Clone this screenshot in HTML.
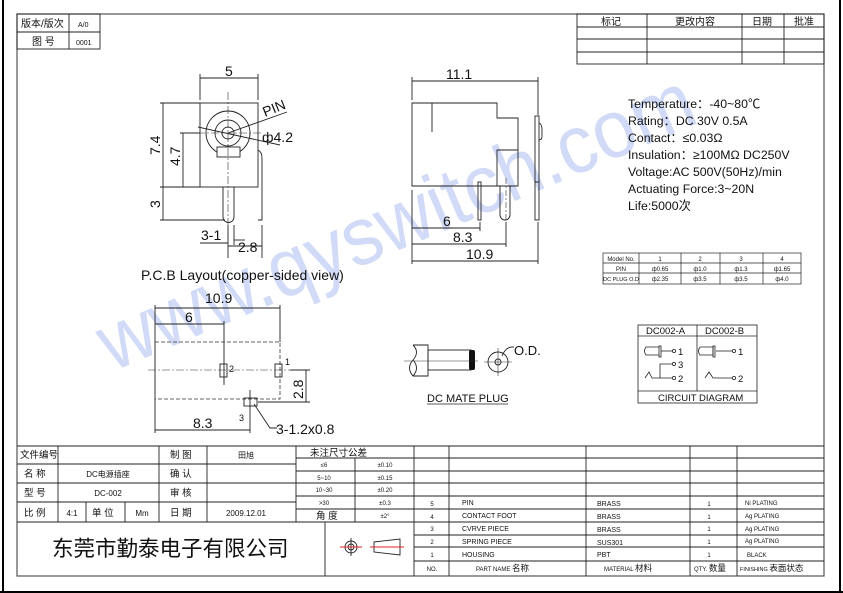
<!DOCTYPE html>
<html><head><meta charset="utf-8"><style>
html,body{margin:0;padding:0;background:#fff;}
svg{display:block;}
text{font-family:"Liberation Sans","Noto Sans CJK SC",sans-serif;fill:#111;}
</style></head><body>
<svg width="843" height="593" viewBox="0 0 843 593" xmlns="http://www.w3.org/2000/svg">
<rect width="843" height="593" fill="#fff"/>
<!-- outer black edges -->
<line x1="3" y1="0" x2="3" y2="593" stroke="#000" stroke-width="2"/>
<line x1="840" y1="0" x2="840" y2="593" stroke="#000" stroke-width="2"/>
<line x1="0" y1="592" x2="843" y2="592" stroke="#000" stroke-width="2"/>
<!-- frame -->
<rect x="17" y="14" width="807" height="562" fill="none" stroke="#555" stroke-width="1.2"/>

<!-- watermark -->
<text x="0" y="0" transform="translate(112,372) rotate(-23)" font-size="82" textLength="640" lengthAdjust="spacingAndGlyphs" style="fill:#c9d3f6;fill-opacity:0.85">www.qyswitch.com</text>

<g stroke="#222" stroke-width="0.9" fill="none">
<!-- top-left table -->
<rect x="17" y="14" width="83" height="35"/>
<line x1="17" y1="32" x2="100" y2="32"/><line x1="69" y1="14" x2="69" y2="49"/>
<!-- top-right table -->
<rect x="577" y="14" width="247" height="50"/>
<line x1="577" y1="27" x2="824" y2="27"/><line x1="577" y1="39" x2="824" y2="39"/><line x1="577" y1="52" x2="824" y2="52"/>
<line x1="647" y1="14" x2="647" y2="64"/><line x1="742" y1="14" x2="742" y2="64"/><line x1="784" y1="14" x2="784" y2="64"/>
</g>
<g font-size="10">
<text x="21" y="27">版本/版次</text><text x="78" y="27" font-size="7">A/0</text>
<text x="32" y="45">图 号</text><text x="76" y="45" font-size="7">0001</text>
<text x="601" y="25">标记</text><text x="675" y="25">更改内容</text><text x="752" y="25">日期</text><text x="794" y="25">批准</text>
</g>

<!-- front view -->
<g stroke="#222" stroke-width="0.9" fill="none">
<rect x="200" y="103" width="58" height="84"/>
<circle cx="228" cy="133" r="22"/><circle cx="228" cy="133" r="13"/><circle cx="228" cy="133" r="6"/>
<rect x="217" y="147" width="23" height="10" fill="#fff"/>
<path d="M223 187 V217 A5.5 5.5 0 0 0 234 217 V187"/>
<path d="M258 150 Q262 152 262 158 V220 H258"/>
<!-- dims -->
<line x1="200" y1="78" x2="258" y2="78"/><line x1="200" y1="74" x2="200" y2="100"/><line x1="258" y1="74" x2="258" y2="100"/>
<line x1="163" y1="103" x2="163" y2="220"/><line x1="160" y1="103" x2="200" y2="103"/><line x1="160" y1="187" x2="200" y2="187"/><line x1="160" y1="220" x2="225" y2="220"/>
<line x1="183" y1="133" x2="183" y2="187"/><line x1="180" y1="133" x2="200" y2="133"/>
<line x1="228" y1="225" x2="228" y2="258"/><line x1="262" y1="225" x2="262" y2="258"/>
<line x1="228" y1="246" x2="262" y2="246"/>
<line x1="200" y1="243" x2="228" y2="243"/><line x1="234" y1="225" x2="234" y2="245"/><line x1="234" y1="240" x2="245" y2="240"/>
<line x1="198" y1="127" x2="280" y2="145"/>
<line x1="228" y1="133" x2="287" y2="112"/>
</g>
<g stroke="#333" stroke-width="0.6" stroke-dasharray="8 2 2 2" fill="none">
<line x1="228" y1="92" x2="228" y2="248"/><line x1="183" y1="133" x2="262" y2="133"/>
</g>
<g font-size="14">
<text x="225" y="76">5</text>
<text transform="translate(160,155) rotate(-90)">7.4</text>
<text transform="translate(180,166) rotate(-90)">4.7</text>
<text transform="translate(160,208) rotate(-90)">3</text>
<text transform="translate(265,117) rotate(-22)">PIN</text>
<text x="262" y="142">ф4.2</text>
<text x="201" y="240">3-1</text>
<text x="238" y="252">2.8</text>
<text x="141" y="280">P.C.B Layout(copper-sided view)</text>
</g>

<!-- side view -->
<g stroke="#222" stroke-width="0.9" fill="none">
<line x1="412" y1="81" x2="538" y2="81"/><line x1="412" y1="77" x2="412" y2="100"/><line x1="538" y1="77" x2="538" y2="115"/>
<path d="M412 186 V103 H497 V118 H518 V186 Z"/>
<line x1="432" y1="103" x2="432" y2="132"/>
<path d="M497 186 V150 H518"/>
<rect x="535" y="116" width="4" height="66"/>
<path d="M539 123 Q542 124 542 130 V136 Q542 140 539 140"/>
<path d="M500 186 V215 A5 5 0 0 0 510 215 V186"/>
<rect x="478" y="182" width="3" height="38"/>
<rect x="535" y="182" width="4" height="38"/>
<line x1="412" y1="190" x2="412" y2="264"/><line x1="538" y1="222" x2="538" y2="264"/>
<line x1="480" y1="222" x2="480" y2="231"/><line x1="506" y1="222" x2="506" y2="247"/>
<line x1="412" y1="228" x2="480" y2="228"/><line x1="412" y1="244" x2="506" y2="244"/><line x1="412" y1="261" x2="538" y2="261"/>
</g>
<line x1="506" y1="178" x2="506" y2="222" stroke="#333" stroke-width="0.6" stroke-dasharray="6 2 2 2"/>
<g font-size="14">
<text x="446" y="79">11.1</text>
<text x="443" y="226">6</text>
<text x="453" y="242">8.3</text>
<text x="466" y="259">10.9</text>
</g>

<!-- specs -->
<g font-size="12.3">
<text x="628" y="108">Temperature：-40~80℃</text>
<text x="628" y="125">Rating：DC 30V 0.5A</text>
<text x="628" y="142">Contact：≤0.03Ω</text>
<text x="628" y="159">Insulation：≥100MΩ DC250V</text>
<text x="628" y="176">Voltage:AC 500V(50Hz)/min</text>
<text x="628" y="193">Actuating Force:3~20N</text>
<text x="628" y="210">Life:5000次</text>
</g>
<!-- model table -->
<g stroke="#222" stroke-width="0.7" fill="none">
<rect x="603" y="253" width="198" height="31"/>
<line x1="603" y1="263" x2="801" y2="263"/><line x1="603" y1="273" x2="801" y2="273"/>
<line x1="639" y1="253" x2="639" y2="284"/><line x1="681" y1="253" x2="681" y2="284"/><line x1="720" y1="253" x2="720" y2="284"/><line x1="763" y1="253" x2="763" y2="284"/>
</g>
<g font-size="6" text-anchor="middle">
<text x="621" y="261">Model No.</text><text x="660" y="261">1</text><text x="700" y="261">2</text><text x="741" y="261">3</text><text x="782" y="261">4</text>
<text x="621" y="271">PIN</text><text x="660" y="271">ф0.65</text><text x="700" y="271">ф1.0</text><text x="741" y="271">ф1.3</text><text x="782" y="271">ф1.65</text>
<text x="621" y="281" font-size="5.5">DC PLUG O.D</text><text x="660" y="281">ф2.35</text><text x="700" y="281">ф3.5</text><text x="741" y="281">ф3.5</text><text x="782" y="281">ф4.0</text>
</g>

<!-- bottom view -->
<g stroke="#222" stroke-width="0.9" fill="none">
<line x1="155" y1="308" x2="280" y2="308"/><line x1="155" y1="324" x2="224" y2="324"/>
<line x1="155" y1="305" x2="155" y2="433"/><line x1="280" y1="305" x2="280" y2="342"/><line x1="224" y1="321" x2="224" y2="385"/>
<rect x="220" y="364" width="7" height="13"/><rect x="275" y="364" width="7" height="13"/>
<rect x="244" y="398" width="13" height="8"/>
<line x1="250" y1="390" x2="250" y2="433"/>
<line x1="155" y1="430" x2="250" y2="430"/>
<line x1="306" y1="370" x2="306" y2="402"/><line x1="258" y1="402" x2="310" y2="402"/><line x1="290" y1="370" x2="310" y2="370"/>
<path d="M254 404 L270 428 H277"/>
</g>
<rect x="155" y="342" width="125" height="57" fill="none" stroke="#333" stroke-width="0.8" stroke-dasharray="4 2"/>
<line x1="148" y1="370" x2="302" y2="370" stroke="#333" stroke-width="0.6" stroke-dasharray="8 2 2 2"/>
<g font-size="14">
<text x="205" y="303">10.9</text><text x="185" y="322">6</text>
<text transform="translate(303,399) rotate(-90)">2.8</text>
<text x="193" y="428">8.3</text>
<text x="276" y="434">3-1.2x0.8</text>
</g>
<g font-size="9"><text x="229" y="372">2</text><text x="285" y="365">1</text><text x="239" y="421">3</text></g>

<!-- DC mate plug -->
<g stroke="#222" stroke-width="0.9" fill="none">
<path d="M413 345 H428 V376 H413 Q406 368 413 360 Q420 352 413 345"/>
<path d="M413 376 Q420 368 413 360"/>
<rect x="428" y="350" width="43" height="20"/>
<circle cx="498" cy="362" r="10"/><circle cx="498" cy="362" r="3"/>
<path d="M502 356 Q506 346 514 347"/>
</g>
<rect x="469" y="350" width="6" height="20" rx="2" fill="#111"/>
<line x1="404" y1="361" x2="478" y2="361" stroke="#333" stroke-width="0.6"/>
<line x1="484" y1="362" x2="512" y2="362" stroke="#333" stroke-width="0.6"/>
<line x1="498" y1="348" x2="498" y2="376" stroke="#333" stroke-width="0.6"/>
<text x="514" y="355" font-size="13">O.D.</text>
<text x="427" y="402" font-size="11">DC MATE PLUG</text>
<line x1="427" y1="404" x2="508" y2="404" stroke="#222" stroke-width="0.7"/>

<!-- circuit diagram -->
<g stroke="#222" stroke-width="0.8" fill="none">
<rect x="638" y="325" width="119" height="78"/>
<line x1="638" y1="336" x2="757" y2="336"/><line x1="638" y1="391" x2="757" y2="391"/><line x1="697" y1="325" x2="697" y2="391"/>
<path d="M659 347 H646 Q643 351 646 355 H659"/><rect x="659" y="346" width="2" height="11"/><line x1="661" y1="351" x2="672" y2="351"/><circle cx="674" cy="351" r="1.6"/>
<path d="M700 347 H713 V355 H700 Q697 351 700 347"/><rect x="716" y="346" width="2" height="11" transform="translate(-3,0)"/><line x1="716" y1="351" x2="732" y2="351"/><circle cx="734" cy="351" r="1.6"/>
<path d="M645 378 L649 372 L652 378 H672"/><path d="M660 378 V364 H672"/><circle cx="674" cy="364" r="1.6"/><circle cx="674" cy="378" r="1.6"/>
<path d="M705 378 L709 372 L713 378 H732"/><circle cx="734" cy="378" r="1.6"/>
</g>
<g font-size="9.5">
<text x="646" y="334">DC002-A</text><text x="705" y="334">DC002-B</text>
<text x="678" y="355">1</text><text x="678" y="368">3</text><text x="678" y="382">2</text>
<text x="738" y="355">1</text><text x="738" y="382">2</text>
<text x="658" y="401">CIRCUIT DIAGRAM</text>
</g>

<!-- title block -->
<g stroke="#222" stroke-width="0.9" fill="none">
<line x1="17" y1="446" x2="824" y2="446"/>
<line x1="17" y1="464" x2="296" y2="464"/><line x1="17" y1="483" x2="296" y2="483"/><line x1="17" y1="502" x2="296" y2="502"/><line x1="17" y1="522" x2="414" y2="522"/>
<line x1="58" y1="446" x2="58" y2="522"/><line x1="159" y1="446" x2="159" y2="522"/><line x1="207" y1="446" x2="207" y2="522"/><line x1="296" y1="446" x2="296" y2="522"/>
<line x1="86" y1="502" x2="86" y2="522"/><line x1="125" y1="502" x2="125" y2="522"/>
<line x1="325" y1="522" x2="325" y2="576"/><line x1="414" y1="446" x2="414" y2="576"/>
<line x1="296" y1="458" x2="414" y2="458"/><line x1="296" y1="471" x2="414" y2="471"/><line x1="296" y1="483" x2="414" y2="483"/><line x1="296" y1="496" x2="414" y2="496"/><line x1="296" y1="509" x2="414" y2="509"/>
<line x1="355" y1="458" x2="355" y2="522"/>
<line x1="414" y1="458" x2="824" y2="458"/><line x1="414" y1="471" x2="824" y2="471"/><line x1="414" y1="483" x2="824" y2="483"/><line x1="414" y1="496" x2="824" y2="496"/><line x1="414" y1="509" x2="824" y2="509"/><line x1="414" y1="522" x2="824" y2="522"/><line x1="414" y1="535" x2="824" y2="535"/><line x1="414" y1="547" x2="824" y2="547"/><line x1="414" y1="561" x2="824" y2="561"/>
<line x1="449" y1="446" x2="449" y2="576"/><line x1="586" y1="446" x2="586" y2="576"/><line x1="690" y1="446" x2="690" y2="576"/><line x1="737" y1="446" x2="737" y2="576"/>
</g>
<g font-size="9.5">
<text x="20" y="458">文件编号</text><text x="24" y="477">名  称</text><text x="24" y="496">型  号</text><text x="24" y="516">比  例</text>
<text x="170" y="458">制  图</text><text x="170" y="477">确  认</text><text x="170" y="496">审  核</text><text x="170" y="516">日  期</text>
<text x="92" y="516">单 位</text>
<text x="310" y="456">未注尺寸公差</text>
<text x="316" y="519">角 度</text>
</g>
<g font-size="8" text-anchor="middle">
<text x="108" y="477">DC电源插座</text><text x="108" y="496">DC-002</text><text x="72" y="516">4:1</text><text x="142" y="516">Mm</text>
<text x="246" y="458">田旭</text><text x="246" y="516">2009.12.01</text>
</g>
<g font-size="6" text-anchor="middle">
<text x="324" y="467">≤6</text><text x="385" y="467">±0.10</text>
<text x="324" y="480">5~10</text><text x="385" y="480">±0.15</text>
<text x="324" y="492">10~30</text><text x="385" y="492">±0.20</text>
<text x="324" y="505">&gt;30</text><text x="385" y="505">±0.3</text>
<text x="385" y="518">±2°</text>
<text x="432" y="506">5</text><text x="432" y="519">4</text><text x="432" y="531">3</text><text x="432" y="544">2</text><text x="432" y="557">1</text><text x="432" y="571">NO.</text>
<text x="709" y="506">1</text><text x="709" y="519">1</text><text x="709" y="531">1</text><text x="709" y="544">1</text><text x="709" y="557">1</text>
</g>
<g font-size="7">
<text x="462" y="505">PIN</text><text x="462" y="518">CONTACT  FOOT</text><text x="462" y="531">CVRVE  PIECE</text><text x="462" y="544">SPRING  PIECE</text><text x="462" y="557">HOUSING</text>
<text x="597" y="506">BRASS</text><text x="597" y="519">BRASS</text><text x="597" y="532">BRASS</text><text x="597" y="545">SUS301</text><text x="597" y="557">PBT</text>
<text x="745" y="505" font-size="6">Ni PLATING</text><text x="745" y="518" font-size="6">Ag PLATING</text><text x="745" y="531" font-size="6">Ag PLATING</text><text x="745" y="543" font-size="6">Ag PLATING</text><text x="747" y="557" font-size="6">BLACK</text>
<text x="476" y="571" font-size="6">PART NAME <tspan font-size="8.5">名称</tspan></text>
<text x="604" y="571" font-size="6">MATERIAL <tspan font-size="8.5">材料</tspan></text>
<text x="694" y="571" font-size="6">QTY. <tspan font-size="8.5">数量</tspan></text>
<text x="740" y="571" font-size="5.5">FINISHING <tspan font-size="8.5">表面状态</tspan></text>
</g>
<text x="52" y="556" font-size="21.5" font-family="Noto Sans CJK SC, sans-serif">东莞市勤泰电子有限公司</text>
<!-- symbol -->
<g stroke="#222" stroke-width="0.9" fill="none">
<circle cx="351" cy="547" r="6"/><circle cx="351" cy="547" r="3"/>
<line x1="351" y1="538" x2="351" y2="556"/>
<path d="M374 542 L400 539 V555 L374 552 Z"/>
</g>
<line x1="340" y1="547" x2="362" y2="547" stroke="#e02020" stroke-width="1"/>
<line x1="370" y1="547" x2="404" y2="547" stroke="#e02020" stroke-width="1"/>
</svg>
</body></html>
